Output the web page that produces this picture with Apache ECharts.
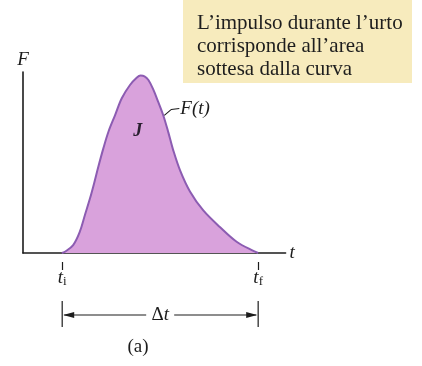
<!DOCTYPE html>
<html>
<head>
<meta charset="utf-8">
<script src="https://cdn.jsdelivr.net/npm/echarts@6/dist/echarts.min.js"></script>
<style>
  html, body { margin: 0; padding: 0; background: #ffffff; }
  #chart { width: 422px; height: 366px; }
</style>
</head>
<body>
<div id="chart"></div>
<script>
// Impulse curve F(t): time samples and force values (arbitrary units)
const tValues     = [0.99, 1.07, 1.28, 1.45, 1.58, 1.71, 1.82, 1.92, 2.05, 2.18, 2.35, 2.52, 2.73, 2.90, 3.00, 3.10, 3.20, 3.32, 3.45, 3.58, 3.71, 3.83, 4.01, 4.26, 4.60, 5.03, 5.45, 5.89, 6.00];
const forceValues = [0,    0.7,  4.4,  11.8, 21.0, 30.2, 39.0, 47.5, 57.8, 67.0, 76.2, 85.5, 92.8, 96.8, 98.0, 97.6, 95.6, 90.5, 83.5, 76.0, 66.5, 57.0, 45.5, 34.0, 23.5, 14.2, 6.2,  1.0,  0];

// Start and end of the collision
const markTimes  = [1, 6];
const markLabels = ['i', 'f'];

// Caption in the note box
const noteLines = ['L\u2019impulso durante l\u2019urto', 'corrisponde all\u2019area', 'sottesa dalla curva'];

const serif = '"Liberation Serif", "Times New Roman", serif';
const ink = '#1c1c1c';

const chart = echarts.init(document.getElementById('chart'), null, { renderer: 'canvas' });

const option = {
  animation: false,
  backgroundColor: '#ffffff',
  grid: { left: 23, top: 72, width: 262.6, height: 181, containLabel: false },
  xAxis: [
    {
      type: 'value', min: 0, max: 6.7,
      axisLine: { show: true, lineStyle: { color: ink, width: 1.6 } },
      axisTick: { show: false },
      axisLabel: { show: false },
      splitLine: { show: false },
      name: 't', nameLocation: 'end', nameGap: 4,
      nameTextStyle: { fontFamily: serif, fontStyle: 'italic', fontSize: 19, color: ink }
    },
    {
      type: 'value', min: 0, max: 6.7, position: 'bottom', offset: 9,
      axisLine: { show: false },
      axisTick: { show: true, customValues: markTimes, length: 8, lineStyle: { color: ink, width: 1.2 } },
      axisLabel: {
        show: true, customValues: markTimes, margin: 5,
        formatter: v => '{t|t}{s|' + markLabels[markTimes.indexOf(v)] + '}',
        rich: {
          t: { fontFamily: serif, fontStyle: 'italic', fontSize: 19, color: ink },
          s: { fontFamily: serif, fontSize: 13, color: ink, verticalAlign: 'bottom', padding: [8, 0, 0, 0] }
        }
      },
      splitLine: { show: false }
    }
  ],
  yAxis: {
    type: 'value', min: 0, max: 100,
    axisLine: { show: true, lineStyle: { color: ink, width: 1.6 } },
    axisTick: { show: false },
    axisLabel: { show: false },
    splitLine: { show: false },
    name: 'F', nameLocation: 'end', nameGap: 3,
    nameTextStyle: { fontFamily: serif, fontStyle: 'italic', fontSize: 19, color: ink, align: 'center' }
  },
  series: [{
    type: 'line',
    data: tValues.map((t, i) => [t, forceValues[i]]),
    smooth: 0.35,
    symbol: 'none',
    lineStyle: { color: '#8c5cb2', width: 2 },
    areaStyle: { color: '#d9a2dc', opacity: 1 },
    z: 1
  }]
};

chart.setOption(option);

// Annotations positioned from the chart's own coordinate system
const px = p => chart.convertToPixel({ gridIndex: 0 }, p);
const leaderIdx = 19;
const lp = px([tValues[leaderIdx], forceValues[leaderIdx]]);
const xi = px([markTimes[0], 0])[0];
const xf = px([markTimes[1], 0])[0];
const jp = px([2.93, 67]);
const arrowY = 315;
const mid = (xi + xf) / 2;

const graphic = [
  // note box
  { type: 'rect', shape: { x: 183, y: 0, width: 229, height: 83 }, style: { fill: '#f7ebbd' }, z: 0 },
  {
    type: 'text', left: 197, top: 12,
    style: { text: noteLines.join('\n'), font: '21px ' + serif, fill: '#1e1e1e', lineHeight: 23 }, z: 5
  },
  // J inside the area
  { type: 'text', x: jp[0], y: jp[1], style: { text: 'J', font: 'italic bold 18px ' + serif, fill: '#2a2030', align: 'center', verticalAlign: 'middle' }, z: 5 },
  // F(t) leader and label
  { type: 'polyline', shape: { points: [[lp[0] + 1, lp[1]], [lp[0] + 8, lp[1] - 6], [lp[0] + 16, lp[1] - 7]] }, style: { stroke: ink, lineWidth: 1.1, fill: null }, z: 5 },
  { type: 'text', x: lp[0] + 17, y: lp[1] - 6, style: { text: 'F(t)', font: 'italic 19px ' + serif, fill: ink, verticalAlign: 'middle' }, z: 5 },
  // Δt dimension line
  { type: 'line', shape: { x1: xi, y1: arrowY - 14, x2: xi, y2: arrowY + 12 }, style: { stroke: ink, lineWidth: 1.2 }, z: 5 },
  { type: 'line', shape: { x1: xf, y1: arrowY - 14, x2: xf, y2: arrowY + 12 }, style: { stroke: ink, lineWidth: 1.2 }, z: 5 },
  { type: 'line', shape: { x1: xi + 2, y1: arrowY, x2: mid - 14, y2: arrowY }, style: { stroke: ink, lineWidth: 1.1 }, z: 5 },
  { type: 'line', shape: { x1: mid + 14, y1: arrowY, x2: xf - 2, y2: arrowY }, style: { stroke: ink, lineWidth: 1.1 }, z: 5 },
  { type: 'polygon', shape: { points: [[xi + 1, arrowY], [xi + 12, arrowY - 3], [xi + 12, arrowY + 3]] }, style: { fill: ink }, z: 5 },
  { type: 'polygon', shape: { points: [[xf - 1, arrowY], [xf - 12, arrowY - 3], [xf - 12, arrowY + 3]] }, style: { fill: ink }, z: 5 },
  {
    type: 'text', x: mid, y: arrowY,
    style: {
      text: '{d|\u0394}{t|t}', align: 'center', verticalAlign: 'middle',
      rich: { d: { font: '19px ' + serif, fill: ink }, t: { font: 'italic 19px ' + serif, fill: ink } }
    }, z: 5
  },
  // panel label
  { type: 'text', x: 138, y: 347, style: { text: '(a)', font: '19px ' + serif, fill: ink, align: 'center', verticalAlign: 'middle' }, z: 5 }
];

chart.setOption({ graphic: graphic });
</script>
</body>
</html>
